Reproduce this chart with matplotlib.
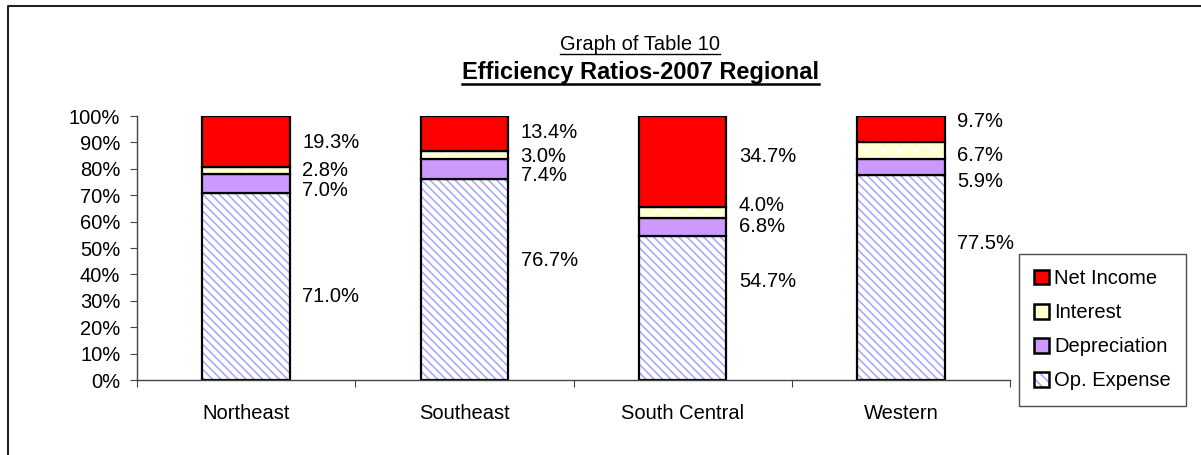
import matplotlib

matplotlib.use("Agg")
import matplotlib.pyplot as plt
from matplotlib.legend_handler import HandlerTuple
from matplotlib.lines import Line2D
from matplotlib.patches import Patch
import numpy as np

plt.rcParams["font.family"] = ["Liberation Sans", "DejaVu Sans"]
plt.rcParams["hatch.linewidth"] = 1.1

REGIONS = ["Northeast", "Southeast", "South Central", "Western"]
OP_EXPENSE = [71.0, 76.7, 54.7, 77.5]
DEPRECIATION = [7.0, 7.4, 6.8, 5.9]
INTEREST = [2.8, 3.0, 4.0, 6.7]
NET_INCOME = [19.3, 13.4, 34.7, 9.7]

# label nudges (percentage points) so the labels sit where the original put them
LABEL_SHIFT = {
    "op": [-4.0, 7.0, 10.0, 13.0],
    "dep": [-2.5, -2.7, 0.3, -5.6],
    "int": [0.0, -0.6, 2.6, -1.7],
    "net": [-0.5, 0.3, 1.8, 2.6],
}

FS = 14.5
HATCH_BLUE = "#A4A4FF"

fig = plt.figure(figsize=(12.01, 4.55), dpi=100)
ax = fig.add_axes([137 / 1201, 1 - 380 / 455, (1010 - 137) / 1201, (380 - 116) / 455])

x = np.arange(len(REGIONS))
width = 0.4
series = [
    ("op", OP_EXPENSE, "white", HATCH_BLUE, "\\\\\\\\", "Op. Expense"),
    ("dep", DEPRECIATION, "#CC99FF", None, None, "Depreciation"),
    ("int", INTEREST, "#FFFFCC", "white", "xx", "Interest"),
    ("net", NET_INCOME, "#FF0000", None, None, "Net Income"),
]
totals = np.sum([OP_EXPENSE, DEPRECIATION, INTEREST, NET_INCOME], axis=0)
bottom = np.zeros(len(REGIONS))
for key, vals, face, hcol, hatch, name in series:
    h = np.asarray(vals) / totals * 100
    if hatch:
        ax.bar(x, h, width, bottom=bottom, color=face, edgecolor=hcol, hatch=hatch, linewidth=0)
    else:
        ax.bar(x, h, width, bottom=bottom, color=face, linewidth=0)
    ax.bar(x, h, width, bottom=bottom, fill=False, edgecolor="black", linewidth=1.6)
    for i in range(len(REGIONS)):
        ypos = bottom[i] + h[i] / 2 + LABEL_SHIFT[key][i]
        ax.annotate(f"{vals[i]:.1f}%", (x[i] + width / 2, ypos), xytext=(9, 0),
                    textcoords="offset points", va="center", ha="left", fontsize=FS)
    bottom += h

ax.set_xlim(-0.5, 3.5)
ax.set_ylim(0, 100)
ax.set_yticks(np.arange(0, 101, 10))
ax.set_yticklabels([f"{v}%" for v in range(0, 101, 10)], fontsize=FS)
ax.set_xticks(np.arange(-0.5, 3.6, 1.0), minor=False)
ax.set_xticklabels([])
ax.set_xticks(x, minor=True)
ax.set_xticklabels(REGIONS, minor=True, fontsize=FS)
ax.tick_params(axis="x", which="minor", length=0, pad=17)
ax.tick_params(axis="x", which="major", length=5, color="#444444", direction="out")
ax.tick_params(axis="y", length=5, color="#444444", direction="out", pad=7)
for side in ("top", "right"):
    ax.spines[side].set_visible(False)
for side in ("left", "bottom"):
    ax.spines[side].set_color("#444444")
    ax.spines[side].set_linewidth(1.0)

op_handle = (
    Patch(facecolor="white", edgecolor=HATCH_BLUE, hatch="\\\\\\", linewidth=0),
    Patch(fill=False, edgecolor="black", linewidth=1.8),
)
handles = [
    Patch(facecolor="#FF0000", edgecolor="black", linewidth=1.8),
    Patch(facecolor="#FFFFCC", edgecolor="black", linewidth=1.8),
    Patch(facecolor="#CC99FF", edgecolor="black", linewidth=1.8),
    op_handle,
]
labels = ["Net Income", "Interest", "Depreciation", "Op. Expense"]
leg = fig.legend(handles, labels, loc="upper left", bbox_to_anchor=(1019 / 1201, 1 - 254 / 455),
                 bbox_transform=fig.transFigure, fontsize=FS, frameon=True, fancybox=False,
                 handlelength=0.75, handleheight=0.75, handletextpad=0.25, labelspacing=0.75,
                 borderpad=0.75, borderaxespad=0,
                 handler_map={tuple: HandlerTuple(ndivide=1, pad=0)})
leg.get_frame().set_edgecolor("#222222")
leg.get_frame().set_linewidth(1.0)

t1 = fig.text(640 / 1201, 1 - 45 / 455, "Graph of Table 10", ha="center", va="center", fontsize=FS)
t2 = fig.text(640 / 1201, 1 - 73 / 455, "Efficiency Ratios-2007 Regional", ha="center", va="center",
              fontsize=17, fontweight="bold")

renderer = fig.canvas.get_renderer()
W, H = fig.get_size_inches() * fig.dpi
for t, lw in ((t1, 1.0), (t2, 1.8)):
    bb = t.get_window_extent(renderer)
    yl = (bb.y0 + 1) / H
    fig.add_artist(Line2D([bb.x0 / W, bb.x1 / W], [yl, yl], color="black", linewidth=lw,
                          transform=fig.transFigure))

# outer chart border (left and top edges visible)
fig.add_artist(Line2D([8 / W, 8 / W, 1.0], [0.0, 1 - 6 / H, 1 - 6 / H], color="#222222",
                      linewidth=1.5, transform=fig.transFigure))

fig.savefig("out.png", dpi=100)
